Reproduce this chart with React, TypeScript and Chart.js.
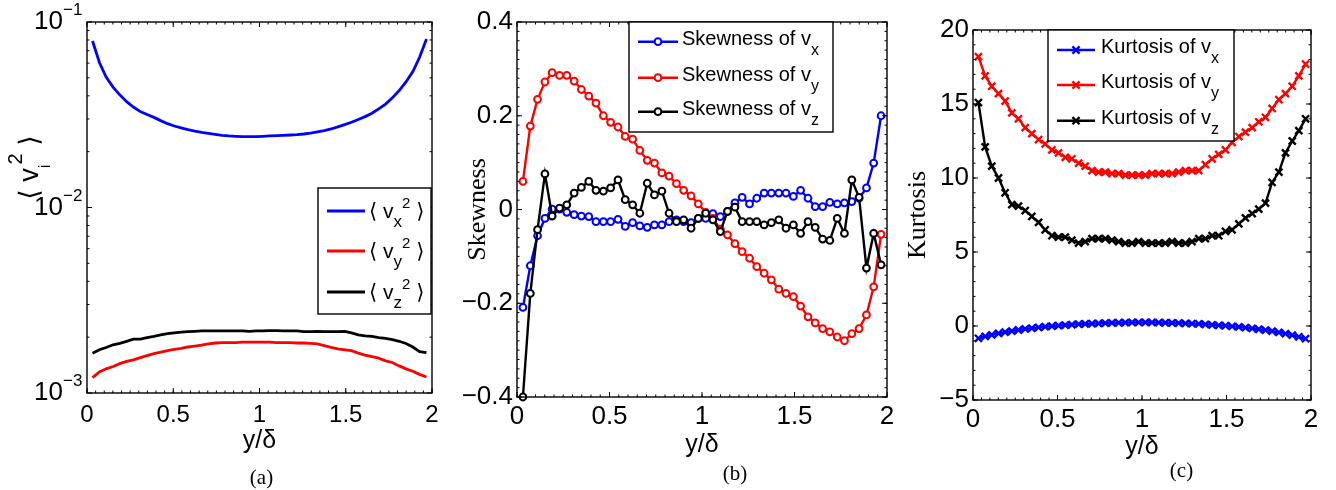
import React, { useEffect, useRef } from "react";
import { Chart, registerables } from "chart.js";

Chart.register(...registerables);

const SANS = "'Liberation Sans', 'DejaVu Sans', Arial, sans-serif";
const SERIF = "'Liberation Serif', 'Times New Roman', serif";
const BLUE = "#0000ff";
const RED = "#ff0000";
const BLACK = "#000000";
const H = 490;

// ---------- data ----------
const yOverDelta = [
  0.032, 0.072, 0.111, 0.151, 0.19, 0.23, 0.269, 0.309, 0.348, 0.388,
  0.427, 0.467, 0.506, 0.546, 0.585, 0.625, 0.664, 0.704, 0.743, 0.783,
  0.822, 0.862, 0.901, 0.941, 0.98, 1.02, 1.059, 1.099, 1.138, 1.178,
  1.217, 1.257, 1.296, 1.336, 1.375, 1.415, 1.454, 1.494, 1.533, 1.573,
  1.612, 1.652, 1.691, 1.731, 1.77, 1.81, 1.849, 1.889, 1.928, 1.968,
];

const msVx = [
  0.079, 0.0605, 0.0505, 0.0446, 0.0405, 0.0372, 0.0348, 0.0329, 0.0317, 0.0306,
  0.0294, 0.0283, 0.0275, 0.0269, 0.0263, 0.0258, 0.0254, 0.0251, 0.0248, 0.0245,
  0.0243, 0.0242, 0.0241, 0.0241, 0.0241, 0.0242, 0.0243, 0.0244, 0.0245, 0.0246,
  0.0247, 0.0249, 0.0252, 0.0256, 0.026, 0.0265, 0.0272, 0.028, 0.0288, 0.0298,
  0.0309, 0.0322, 0.034, 0.0361, 0.039, 0.0427, 0.0475, 0.054, 0.0645, 0.081,
];
const msVy = [
  0.00121, 0.0013, 0.00135, 0.00139, 0.00144, 0.00148, 0.00151, 0.00155, 0.00159, 0.00163,
  0.00166, 0.00169, 0.00172, 0.00174, 0.00177, 0.00179, 0.00181, 0.00184, 0.00186, 0.00187,
  0.00187, 0.00187, 0.00188, 0.00188, 0.00188, 0.00188, 0.00188, 0.00187, 0.00187, 0.00187,
  0.00186, 0.00186, 0.00185, 0.00184, 0.0018, 0.00176, 0.00173, 0.00171, 0.00169, 0.00164,
  0.0016, 0.00157, 0.00154, 0.00149, 0.00146, 0.0014, 0.00135, 0.00131, 0.00126, 0.00122,
];
const msVz = [
  0.00164, 0.00171, 0.00176, 0.00182, 0.00185, 0.0019, 0.00195, 0.00195, 0.00199, 0.00202,
  0.00206, 0.00209, 0.00211, 0.00213, 0.00214, 0.00215, 0.00216, 0.00216, 0.00216, 0.00216,
  0.00216, 0.00216, 0.00216, 0.00215, 0.00216, 0.00216, 0.00217, 0.00217, 0.00216, 0.00216,
  0.00216, 0.00214, 0.00214, 0.00215, 0.00214, 0.00214, 0.00214, 0.00215, 0.00211, 0.00206,
  0.00203, 0.00202, 0.00199, 0.00197, 0.00194, 0.0019, 0.00185, 0.00177, 0.00167, 0.00165,
];

const skewVx = [
  -0.209, -0.12, -0.056, -0.019, 0.001, 0.001, -0.006, -0.011, -0.014, -0.015,
  -0.026, -0.026, -0.026, -0.021, -0.036, -0.028, -0.035, -0.038, -0.033, -0.033,
  -0.026, -0.022, -0.026, -0.028, -0.019, -0.019, -0.009, -0.015, -0.004, 0.014,
  0.026, 0.012, 0.024, 0.035, 0.035, 0.035, 0.035, 0.028, 0.041, 0.024,
  0.006, 0.006, 0.015, 0.012, 0.014, 0.017, 0.024, 0.046, 0.099, 0.2,
];
const skewVy = [
  0.06, 0.178, 0.235, 0.272, 0.292, 0.286, 0.286, 0.274, 0.256, 0.242,
  0.227, 0.2, 0.186, 0.176, 0.156, 0.15, 0.126, 0.105, 0.099, 0.078,
  0.071, 0.055, 0.041, 0.029, 0.012, -0.006, -0.019, -0.042, -0.054, -0.073,
  -0.09, -0.104, -0.122, -0.136, -0.15, -0.17, -0.179, -0.186, -0.206, -0.229,
  -0.242, -0.254, -0.261, -0.272, -0.28, -0.265, -0.254, -0.225, -0.165, -0.053,
];
const skewVz = [
  -0.4, -0.179, -0.043, 0.076, -0.014, 0.003, 0.01, 0.035, 0.047, 0.06,
  0.041, 0.039, 0.046, 0.063, 0.021, 0.01, -0.008, 0.056, 0.031, 0.039,
  -0.008, -0.026, -0.022, -0.04, -0.019, -0.008, -0.022, -0.047, -0.004, 0.005,
  -0.026, -0.026, -0.026, -0.033, -0.028, -0.022, -0.04, -0.033, -0.051, -0.026,
  -0.038, -0.063, -0.066, -0.019, -0.051, 0.063, 0.026, -0.125, -0.051, -0.118,
];

const kurtVx = [
  -0.83, -0.7, -0.6, -0.5, -0.42, -0.34, -0.27, -0.2, -0.15, -0.1,
  -0.05, -0.01, 0.03, 0.06, 0.09, 0.12, 0.14, 0.16, 0.18, 0.2,
  0.21, 0.22, 0.23, 0.24, 0.24, 0.24, 0.24, 0.23, 0.22, 0.21,
  0.2, 0.18, 0.16, 0.14, 0.11, 0.08, 0.05, 0.02, -0.02, -0.06,
  -0.11, -0.16, -0.22, -0.28, -0.35, -0.43, -0.52, -0.62, -0.73, -0.86,
];
const kurtVy = [
  18.2, 16.9, 16.2, 15.7, 15.2, 14.4, 14.0, 13.4, 13.0, 12.6,
  12.3, 11.9, 11.7, 11.4, 11.3, 11.0, 10.8, 10.5, 10.4, 10.4,
  10.3, 10.3, 10.2, 10.2, 10.2, 10.2, 10.3, 10.3, 10.3, 10.3,
  10.4, 10.5, 10.5, 10.5, 10.9, 11.3, 11.6, 11.9, 12.4, 12.8,
  13.1, 13.4, 13.8, 14.1, 14.7, 15.3, 15.7, 16.2, 16.9, 17.7,
];
const kurtVz = [
  15.1, 12.1, 10.8, 10.0, 9.0, 8.2, 8.1, 7.8, 7.4, 7.0,
  6.5, 6.1, 6.0, 6.0, 5.8, 5.6, 5.7, 5.9, 5.9, 5.9,
  5.8, 5.7, 5.6, 5.6, 5.7, 5.6, 5.6, 5.6, 5.6, 5.7,
  5.6, 5.6, 5.7, 5.9, 5.9, 6.1, 6.1, 6.4, 6.5, 6.9,
  7.3, 7.6, 7.9, 8.3, 9.7, 10.4, 11.7, 12.5, 13.2, 14.0,
];

const xTickValues = [0, 0.5, 1, 1.5, 2];
const logTickValues = [0.001, 0.01, 0.1];
const skewTickValues = [-0.4, -0.2, 0, 0.2, 0.4];
const kurtTickValues = [-5, 0, 5, 10, 15, 20];

const msLabels = ["⟨ v_x^2 ⟩", "⟨ v_y^2 ⟩", "⟨ v_z^2 ⟩"];
const skewLabels = ["Skewness of v_x", "Skewness of v_y", "Skewness of v_z"];
const kurtLabels = ["Kurtosis of v_x", "Kurtosis of v_y", "Kurtosis of v_z"];
const msAxisTitle = "⟨ v_i^2 ⟩";
const xAxisTitle = "y/δ";
const skewAxisTitle = "Skewness";
const kurtAxisTitle = "Kurtosis";
const captions = ["(a)", "(b)", "(c)"];

// ---------- helpers ----------
type Seg = { t: string; k: "n" | "sub" | "sup" };
function parseRich(s: string): Seg[] {
  const out: Seg[] = [];
  let buf = "";
  let i = 0;
  while (i < s.length) {
    const c = s[i];
    if ((c === "_" || c === "^") && i + 1 < s.length) {
      if (buf) { out.push({ t: buf, k: "n" }); buf = ""; }
      out.push({ t: s[i + 1], k: c === "_" ? "sub" : "sup" });
      i += 2;
    } else {
      buf += c;
      i++;
    }
  }
  if (buf) out.push({ t: buf, k: "n" });
  return out;
}

type Rich = { family: string; size: number; subSize: number; supSize: number; subDy: number; supDy: number };

function drawRich(ctx: CanvasRenderingContext2D, s: string, x: number, y: number, st: Rich, align: string = "left") {
  const segs = parseRich(s);
  const sizeOf = (k: string) => (k === "sub" ? st.subSize : k === "sup" ? st.supSize : st.size);
  const widths = segs.map((g) => {
    ctx.font = `${sizeOf(g.k)}px ${st.family}`;
    return ctx.measureText(g.t).width;
  });
  const total = widths.reduce((a, b) => a + b, 0);
  let cx = align === "center" ? x - total / 2 : align === "right" ? x - total : x;
  ctx.textAlign = "left";
  ctx.textBaseline = "alphabetic";
  segs.forEach((g, i) => {
    ctx.font = `${sizeOf(g.k)}px ${st.family}`;
    const dy = g.k === "sub" ? st.subDy : g.k === "sup" ? st.supDy : 0;
    ctx.fillText(g.t, cx, y + dy);
    cx += widths[i];
  });
}

function steps(a: number, b: number, step: number): number[] {
  const out: number[] = [];
  const n = Math.round((b - a) / step);
  for (let i = 0; i <= n; i++) out.push(+(a + i * step).toFixed(6));
  return out;
}

function fmt(v: any): string {
  const n = Number(v);
  if (Math.abs(n) < 1e-9) return "0";
  const s = String(Number(Math.abs(n).toFixed(3)));
  return n < 0 ? "\u2212" + s : s;
}

function drawFrame(chart: any, xMajor: number[], xMinor: number[], yMajor: number[], yMinor: number[]) {
  const { ctx, chartArea: a, scales } = chart;
  const xs = scales.x;
  const ys = scales.y;
  ctx.save();
  ctx.strokeStyle = "#000";
  ctx.lineWidth = 1;
  ctx.beginPath();
  const xt = (vals: number[], len: number) => {
    for (const v of vals) {
      const p = xs.getPixelForValue(v);
      ctx.moveTo(p, a.bottom); ctx.lineTo(p, a.bottom - len);
      ctx.moveTo(p, a.top); ctx.lineTo(p, a.top + len);
    }
  };
  const yt = (vals: number[], len: number) => {
    for (const v of vals) {
      const p = ys.getPixelForValue(v);
      ctx.moveTo(a.left, p); ctx.lineTo(a.left + len, p);
      ctx.moveTo(a.right, p); ctx.lineTo(a.right - len, p);
    }
  };
  xt(xMajor, 5); xt(xMinor, 2.5);
  yt(yMajor, 5); yt(yMinor, 2.5);
  ctx.stroke();
  ctx.lineWidth = 1.4;
  ctx.strokeRect(a.left, a.top, a.right - a.left, a.bottom - a.top);
  ctx.restore();
}

type LegendLayout = {
  box: number[]; rowsY: number[]; line: number[]; textX: number; baseDy: number;
  rich: Rich; marker: string; markerR: number; markerW: number; lineWidth: number;
};

function drawLegend(chart: any, L: LegendLayout) {
  const { ctx } = chart;
  ctx.save();
  const [x0, y0, x1, y1] = L.box;
  ctx.fillStyle = "#fff";
  ctx.fillRect(x0, y0, x1 - x0, y1 - y0);
  ctx.strokeStyle = "#000";
  ctx.lineWidth = 1.4;
  ctx.strokeRect(x0, y0, x1 - x0, y1 - y0);
  chart.data.datasets.forEach((ds: any, i: number) => {
    const y = L.rowsY[i];
    const color = ds.borderColor;
    ctx.strokeStyle = color;
    ctx.lineWidth = L.lineWidth;
    ctx.beginPath();
    ctx.moveTo(L.line[0], y);
    ctx.lineTo(L.line[1], y);
    ctx.stroke();
    const mx = (L.line[0] + L.line[1]) / 2;
    if (L.marker === "circle") {
      ctx.beginPath();
      ctx.arc(mx, y, L.markerR, 0, Math.PI * 2);
      ctx.fillStyle = "#fff";
      ctx.fill();
      ctx.lineWidth = L.markerW;
      ctx.stroke();
    } else if (L.marker === "cross") {
      const d = L.markerR * 0.7071;
      ctx.lineWidth = L.markerW;
      ctx.beginPath();
      ctx.moveTo(mx - d, y - d); ctx.lineTo(mx + d, y + d);
      ctx.moveTo(mx - d, y + d); ctx.lineTo(mx + d, y - d);
      ctx.stroke();
    }
    ctx.fillStyle = "#000";
    drawRich(ctx, ds.label, L.textX, y + L.baseDy, L.rich);
  });
  ctx.restore();
}

function drawCaption(chart: any, text: string, x: number, y: number) {
  const { ctx } = chart;
  ctx.save();
  ctx.fillStyle = "#000";
  ctx.font = `21px ${SERIF}`;
  ctx.textAlign = "center";
  ctx.textBaseline = "middle";
  ctx.fillText(text, x, y);
  ctx.restore();
}

function pts(ys: number[]) {
  return yOverDelta.map((x, i) => ({ x, y: ys[i] }));
}

function xScale(tickSize: number, tickPad: number, height: number) {
  return {
    type: "linear",
    min: 0,
    max: 2,
    afterBuildTicks: (s: any) => { s.ticks = xTickValues.map((v) => ({ value: v })); },
    afterFit: (s: any) => { s.height = height; },
    grid: { display: false, drawTicks: false },
    border: { display: false },
    ticks: { font: { family: SANS, size: tickSize }, color: "#000", padding: tickPad, maxRotation: 0, autoSkip: false, callback: fmt },
    title: { display: true, text: xAxisTitle, font: { family: SANS, size: 25 }, color: "#000", padding: 0 },
  };
}

const xMinor = steps(0, 2, 0.05);

// ---------- panel (a) ----------
function configA(): any {
  const legendRich: Rich = { family: SANS, size: 21, subSize: 17, supSize: 15, subDy: 9, supDy: -10 };
  const titleRich: Rich = { family: SANS, size: 27, subSize: 17, supSize: 20, subDy: 12, supDy: -16 };
  const logMinor: number[] = [];
  [0.001, 0.01].forEach((d) => { for (let k = 2; k <= 9; k++) logMinor.push(+(k * d).toFixed(6)); });
  const mk = (label: string, data: number[], color: string) => ({
    label, data: pts(data), borderColor: color, backgroundColor: color, borderWidth: 2.8, pointRadius: 0, clip: false,
  });
  return {
    type: "line",
    data: { datasets: [mk(msLabels[0], msVx, BLUE), mk(msLabels[1], msVy, RED), mk(msLabels[2], msVz, BLACK)] },
    options: {
      animation: false,
      responsive: false,
      devicePixelRatio: 1,
      layout: { padding: { left: 67, right: 18, top: 22, bottom: 34 } },
      plugins: { legend: { display: false }, tooltip: { enabled: false } },
      scales: {
        x: xScale(24, 7.6, 63),
        y: {
          type: "logarithmic",
          min: 0.001,
          max: 0.1,
          afterBuildTicks: (s: any) => { s.ticks = logTickValues.map((v) => ({ value: v })); },
          afterFit: (s: any) => { s.width = 20; },
          grid: { display: false, drawTicks: false },
          border: { display: false },
          ticks: { display: false },
        },
      },
    },
    plugins: [{
      id: "decorA",
      afterDraw(chart: any) {
        drawFrame(chart, xTickValues, xMinor, logTickValues, logMinor);
        const { ctx } = chart;
        const ys = chart.scales.y;
        ctx.save();
        ctx.fillStyle = "#000";
        logTickValues.forEach((v) => {
          const py = ys.getPixelForValue(v);
          const e = Math.round(Math.log10(v));
          ctx.font = `26px ${SANS}`;
          ctx.textAlign = "right";
          ctx.textBaseline = "middle";
          ctx.fillText("10", 63, py);
          ctx.font = `17px ${SANS}`;
          ctx.textAlign = "left";
          ctx.fillText("\u2212" + Math.abs(e), 63, py - 11.5);
        });
        ctx.translate(38, 167.5);
        ctx.rotate(-Math.PI / 2);
        drawRich(ctx, msAxisTitle, 0, 0, titleRich, "center");
        ctx.restore();
        drawLegend(chart, {
          box: [318, 188, 431, 314], rowsY: [211, 251, 292], line: [327, 365], textX: 369, baseDy: 7.3,
          rich: legendRich, marker: "none", markerR: 0, markerW: 0, lineWidth: 2.8,
        });
        drawCaption(chart, captions[0], 261.5, 478.5);
      },
    }],
  };
}

// ---------- panel (b) ----------
function configB(): any {
  const legendRich: Rich = { family: SANS, size: 20, subSize: 16, supSize: 14, subDy: 9.5, supDy: -10 };
  const mk = (label: string, data: number[], color: string, order: number) => ({
    label, data: pts(data), borderColor: color, backgroundColor: color, borderWidth: 2.4, order,
    pointRadius: 3.4, pointBorderWidth: 2, pointBackgroundColor: "#fff", pointBorderColor: color, pointStyle: "circle", clip: false,
  });
  return {
    type: "line",
    data: { datasets: [mk(skewLabels[0], skewVx, BLUE, 3), mk(skewLabels[1], skewVy, RED, 2), mk(skewLabels[2], skewVz, BLACK, 1)] },
    options: {
      animation: false,
      responsive: false,
      devicePixelRatio: 1,
      layout: { padding: { left: 12.4, right: 13, top: 22, bottom: 30 } },
      plugins: { legend: { display: false }, tooltip: { enabled: false } },
      scales: {
        x: xScale(26, 3.9, 63),
        y: {
          type: "linear",
          min: -0.4,
          max: 0.4,
          afterBuildTicks: (s: any) => { s.ticks = skewTickValues.map((v) => ({ value: v })); },
          afterFit: (s: any) => { s.width = 54.6; },
          grid: { display: false, drawTicks: false },
          border: { display: false },
          ticks: { font: { family: SANS, size: 26 }, color: "#000", padding: 4, autoSkip: false, callback: fmt },
          title: { display: true, text: skewAxisTitle, font: { family: SERIF, size: 26 }, color: "#000", padding: 0 },
        },
      },
    },
    plugins: [{
      id: "decorB",
      afterDraw(chart: any) {
        drawFrame(chart, xTickValues, xMinor, skewTickValues, steps(-0.4, 0.4, 0.02));
        drawLegend(chart, {
          box: [179, 22, 383, 132], rowsY: [41.7, 77.7, 111.7], line: [188, 228], textX: 232, baseDy: 3.5,
          rich: legendRich, marker: "circle", markerR: 3.4, markerW: 2, lineWidth: 2.4,
        });
        drawCaption(chart, captions[1], 285, 474);
      },
    }],
  };
}

// ---------- panel (c) ----------
function configC(): any {
  const legendRich: Rich = { family: SANS, size: 20, subSize: 16, supSize: 14, subDy: 9.5, supDy: -10 };
  const mk = (label: string, data: number[], color: string, order: number) => ({
    label, data: pts(data), borderColor: color, backgroundColor: color, borderWidth: 2.4, order,
    pointRadius: 5, pointBorderWidth: 2.4, pointBorderColor: color, pointStyle: "crossRot", clip: false,
  });
  return {
    type: "line",
    data: { datasets: [mk(kurtLabels[0], kurtVx, BLUE, 3), mk(kurtLabels[1], kurtVy, RED, 2), mk(kurtLabels[2], kurtVz, BLACK, 1)] },
    options: {
      animation: false,
      responsive: false,
      devicePixelRatio: 1,
      layout: { padding: { left: 2.4, right: 25, top: 30, bottom: 28 } },
      plugins: { legend: { display: false }, tooltip: { enabled: false } },
      scales: {
        x: xScale(26, 4.4, 62),
        y: {
          type: "linear",
          min: -5,
          max: 20,
          afterBuildTicks: (s: any) => { s.ticks = kurtTickValues.map((v) => ({ value: v })); },
          afterFit: (s: any) => { s.width = 70.6; },
          grid: { display: false, drawTicks: false },
          border: { display: false },
          ticks: { font: { family: SANS, size: 26 }, color: "#000", padding: 4, autoSkip: false, callback: fmt },
          title: { display: true, text: kurtAxisTitle, font: { family: SERIF, size: 26 }, color: "#000", padding: 0 },
        },
      },
    },
    plugins: [{
      id: "decorC",
      afterDraw(chart: any) {
        drawFrame(chart, xTickValues, xMinor, kurtTickValues, steps(-5, 20, 1));
        drawLegend(chart, {
          box: [148, 30, 334, 141], rowsY: [50, 85, 120.7], line: [157, 195], textX: 201, baseDy: 3.3,
          rich: legendRich, marker: "cross", markerR: 5, markerW: 2.4, lineWidth: 2.4,
        });
        drawCaption(chart, captions[2], 281.5, 471.7);
      },
    }],
  };
}

function Panel({ left, width, build }: { left: number; width: number; build: () => any }) {
  const ref = useRef<HTMLCanvasElement | null>(null);
  useEffect(() => {
    if (!ref.current) return;
    const chart = new Chart(ref.current, build());
    return () => chart.destroy();
  }, [build]);
  return (
    <canvas
      ref={ref}
      width={width}
      height={H}
      style={{ position: "absolute", left, top: 0, width, height: H, display: "block" }}
    />
  );
}

export default function App() {
  return (
    <div style={{ position: "absolute", left: 0, top: 0, width: 1336, height: H, background: "#fff", overflow: "hidden" }}>
      <Panel left={0} width={450} build={configA} />
      <Panel left={450} width={450} build={configB} />
      <Panel left={900} width={436} build={configC} />
    </div>
  );
}
